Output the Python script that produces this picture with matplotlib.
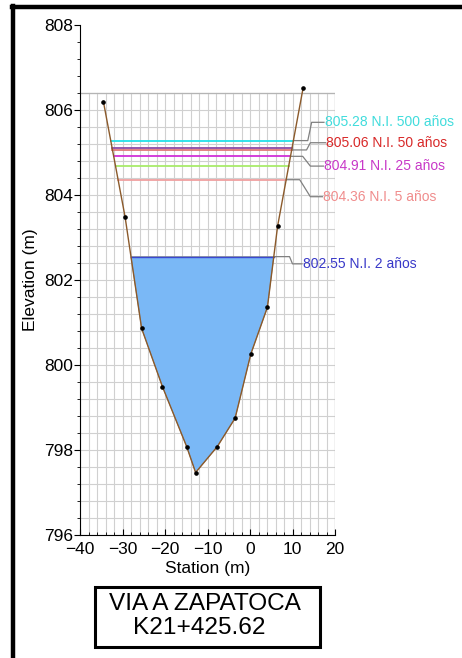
import numpy as np
import matplotlib
matplotlib.use("Agg")
import matplotlib.pyplot as plt
from matplotlib.lines import Line2D
from matplotlib.patches import Rectangle

plt.rcParams['font.family'] = ['Liberation Sans', 'DejaVu Sans']

# ---- data ----
station = [-34.5, -29.4, -25.5, -20.6, -14.9, -12.8, -7.7, -3.5, 0.2, 4.1, 6.5, 12.5]
elevation = [806.2, 803.49, 800.86, 799.49, 798.08, 797.47, 798.08, 798.75, 800.26, 801.36, 803.27, 806.52]

ws_levels = [805.28, 805.11, 805.06, 804.91, 804.68, 804.36]
ws_colors = ['#22e0e8', '#8a4aa8', '#e07878', '#d030d8', '#a8ec6a', '#f0a0a0']

labels = ['805.28 N.I. 500 años', '805.06 N.I. 50 años', '804.91 N.I. 25 años',
          '804.36 N.I. 5 años', '802.55 N.I. 2 años']
label_levels = [805.28, 805.06, 804.91, 804.36, 802.55]
label_colors = ['#40dcdc', '#d82828', '#c838c8', '#f08c8c', '#3838c8']

fill_level = 802.55

# ---- layout constants for leader lines (annotation positions) ----
label_y = [805.71, 805.23, 804.68, 803.96, 802.38]
label_x = [17.6, 18.0, 17.5, 17.25, 12.4]
elbow1 = [13.6, 13.3, 12.4, 11.7, 9.3]
elbow2 = [14.5, 14.2, 14.2, 14.2, 10.0]

x = np.array(station)
y = np.array(elevation)
imin = int(np.argmin(y))


def banks(level):
    xl = np.interp(level, y[:imin + 1][::-1], x[:imin + 1][::-1])
    xr = np.interp(level, y[imin:], x[imin:])
    return xl, xr


fig = plt.figure(figsize=(4.62, 6.58), dpi=100)
ax = fig.add_axes([80 / 462, 1 - 535 / 658, 255 / 462, 510 / 658])
ax.set_xlim(-40, 20)
ax.set_ylim(796, 808)

# grid (limited to the lower part of the plot)
grid_top = 806.4
for gx in np.arange(-40, 20.01, 2):
    ax.plot([gx, gx], [796, grid_top], color='#d0d0d0', lw=0.8, zorder=0)
for gy in np.arange(796, grid_top + 0.01, 0.4):
    ax.plot([-40, 20], [gy, gy], color='#d0d0d0', lw=0.8, zorder=0)
ax.plot([-40, 20], [grid_top, grid_top], color='#b4b4b4', lw=0.9, zorder=0)
ax.plot([20, 20], [796, grid_top], color='#b4b4b4', lw=0.9, zorder=0)

# 2-year water fill
xl2, xr2 = banks(fill_level)
mask = y < fill_level
px = np.concatenate([[xl2], x[mask], [xr2]])
py = np.concatenate([[fill_level], y[mask], [fill_level]])
ax.fill(px, py, facecolor='#7ab8f6', edgecolor='#909090', lw=0.6, zorder=2)
ax.plot([xl2, xr2], [fill_level, fill_level], color='#3a48d0', lw=1.0, zorder=3)

# water surface lines
for lev, c in zip(ws_levels, ws_colors):
    xl, xr = banks(lev)
    ax.plot([xl, xr], [lev, lev], color=c, lw=1.3, zorder=3)

# ground
ax.plot(x, y, color='#8b5a2b', lw=1.0, zorder=4)
ax.plot(x, y, 'o', color='black', ms=2.3, zorder=5)

# labels with leader lines
for lab, lev, c, ly, lx, e1, e2 in zip(labels, label_levels, label_colors,
                                       label_y, label_x, elbow1, elbow2):
    xl, xr = banks(lev)
    ax.plot([xr, e1, e2, lx - 0.2], [lev, lev, ly, ly], color='#808080', lw=0.9,
            zorder=3, clip_on=False)
    ax.text(lx, ly, lab, color=c, fontsize=10, va='center', ha='left', clip_on=False)

# axes styling
for s in ['top', 'right']:
    ax.spines[s].set_visible(False)
ax.spines['left'].set_linewidth(0.8)
ax.spines['bottom'].set_linewidth(0.8)
ax.set_xticks(np.arange(-40, 21, 10))
ax.set_xticks(np.arange(-40, 21, 2), minor=True)
ax.set_yticks(np.arange(796, 808.1, 2))
ax.set_yticks(np.arange(796, 808.1, 0.4), minor=True)
ax.tick_params(axis='x', which='major', direction='in', length=4, labelsize=12.5, pad=5)
ax.tick_params(axis='x', which='minor', direction='in', length=2.5)
ax.tick_params(axis='y', which='major', direction='out', length=4, labelsize=12.5, pad=1)
ax.tick_params(axis='y', which='minor', direction='out', length=2.5)
ax.set_xlabel('Station (m)', fontsize=12.5, labelpad=3)
ax.set_ylabel('Elevation (m)', fontsize=12.5, labelpad=4)

# outer frame (left and top)
fig.add_artist(Line2D([13 / 462, 13 / 462], [0, 1 - 6 / 658], color='black', lw=3.2,
                      transform=fig.transFigure))
fig.add_artist(Line2D([11.5 / 462, 1], [1 - 7 / 658, 1 - 7 / 658], color='black', lw=3.2,
                      transform=fig.transFigure))

# title box
fig.add_artist(Rectangle((95 / 462, 1 - 647 / 658), 225 / 462, 60 / 658, fill=False,
                         edgecolor='black', lw=2.2, transform=fig.transFigure))
fig.text(205 / 462, 1 - 604 / 658, 'VIA A ZAPATOCA', fontsize=17.6, ha='center', va='center')
fig.text(199 / 462, 1 - 628 / 658, 'K21+425.62', fontsize=17.6, ha='center', va='center')

fig.savefig('out.png', dpi=100)
